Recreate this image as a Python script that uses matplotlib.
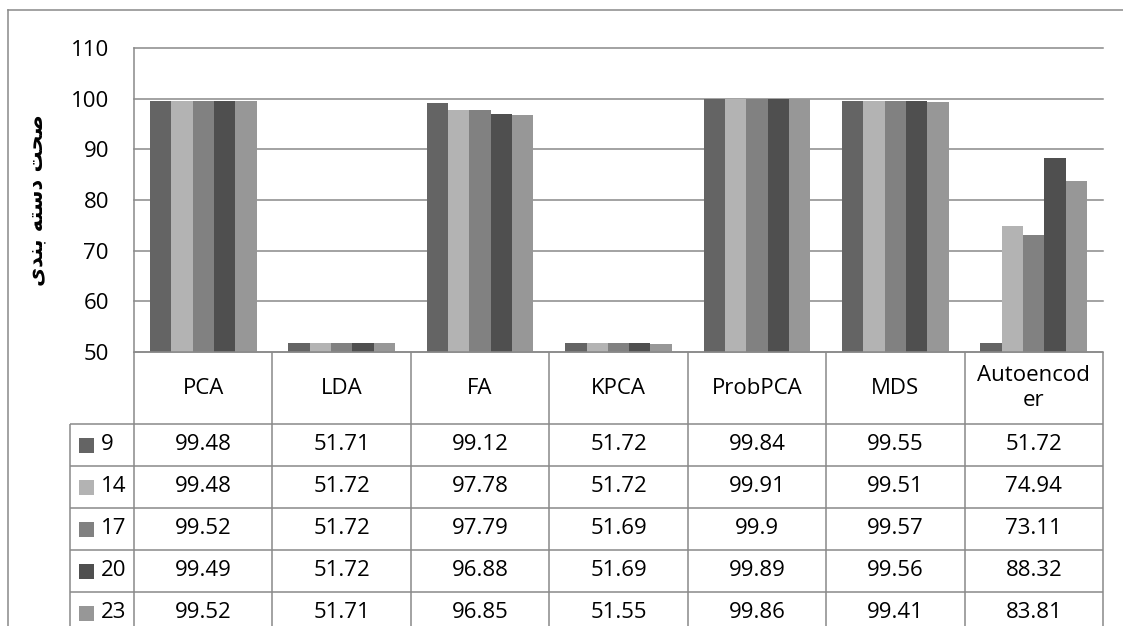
import numpy as np
import matplotlib.pyplot as plt
from matplotlib.lines import Line2D
from matplotlib.patches import Rectangle

# accuracy per method (columns) for each number of features (series)
methods = ['PCA', 'LDA', 'FA', 'KPCA', 'ProbPCA', 'MDS', 'Autoencod\ner']
series = ['9', '14', '17', '20', '23']
acc_9 = [99.48, 51.71, 99.12, 51.72, 99.84, 99.55, 51.72]
acc_14 = [99.48, 51.72, 97.78, 51.72, 99.91, 99.51, 74.94]
acc_17 = [99.52, 51.72, 97.79, 51.69, 99.9, 99.57, 73.11]
acc_20 = [99.49, 51.72, 96.88, 51.69, 99.89, 99.56, 88.32]
acc_23 = [99.52, 51.71, 96.85, 51.55, 99.86, 99.41, 83.81]
yticks = [50, 60, 70, 80, 90, 100, 110]
ylabel = '\ufeef\ufeaa\ufee8\ufe91 \ufeea\ufe98\ufeb3\ufea9 \ufe96\ufea4\ufebb'  # صحت دسته بندی

colors = ['#646464', '#b3b3b3', '#818181', '#4f4f4f', '#979797']
grid_c = '#898989'
plt.rcParams['font.family'] = ['Open Sans', 'DejaVu Sans']

W, H = 1123, 626
fig = plt.figure(figsize=(W / 100, H / 100), dpi=100)


def px_axes(l, t, r, b):
    return fig.add_axes([l / W, 1 - b / H, (r - l) / W, (b - t) / H])


# bars
ax = px_axes(134, 48, 1103, 352)
all_acc = [acc_9, acc_14, acc_17, acc_20, acc_23]
x = np.arange(len(methods))
bw = 0.154
for i, vals in enumerate(all_acc):
    ax.bar(x + (i - 2) * bw, vals, width=bw, color=colors[i], zorder=3)
ax.set_xlim(-0.5, len(methods) - 0.5)
ax.set_ylim(50, 110)
ax.set_yticks(yticks)
ax.set_xticks([])
ax.tick_params(axis='y', length=0, pad=18, labelsize=16)
ax.yaxis.grid(True, color=grid_c, lw=1.1, zorder=1)
for g in ax.get_ygridlines():
    g.set_clip_on(False)
for s in ['top', 'right', 'bottom']:
    ax.spines[s].set_visible(False)
ax.spines['left'].set_color(grid_c)
ax.spines['left'].set_linewidth(1.1)

# data table under the plot
col_px = (1103 - 134) / len(methods)
leg_w = (134 - 70) / col_px
x0 = -0.5 - leg_w
x1 = len(methods) - 0.5
tax = px_axes(70, 352, 1103, 626)
tax.set_xlim(x0, x1)
tax.set_ylim(274, 0)
tax.axis('off')

head_h, row_h = 72, 42
kw = dict(color=grid_c, lw=1.1, solid_capstyle='butt', clip_on=False)
tax.plot([-0.5, x1], [0, 0], **kw)
for r in range(len(series) + 1):
    y = head_h + r * row_h
    tax.plot([x0, x1], [y, y], **kw)
tax.plot([x0, x0], [head_h, 274], **kw)
for k in range(len(methods) + 1):
    tax.plot([k - 0.5, k - 0.5], [0, 274], **kw)

for k, m in enumerate(methods):
    tax.text(k, head_h / 2, m, ha='center', va='center', fontsize=16,
             linespacing=1.25, multialignment='center')
for i, vals in enumerate(all_acc):
    yc = head_h + i * row_h + row_h / 2
    tax.add_patch(Rectangle((x0 + 9 / col_px, yc - 7.5), 15 / col_px, 15,
                            color=colors[i], lw=0))
    tax.text(x0 + 31 / col_px, yc, series[i], ha='left', va='center',
             fontsize=16)
    for k, v in enumerate(vals):
        tax.text(k, yc, f'{v:g}', ha='center', va='center', fontsize=16)

# y axis title
fig.text(36 / W, 1 - 200 / H, ylabel, rotation=90, ha='center', va='center',
         fontsize=15, fontweight='bold', family=['DejaVu Sans'])

# chart frame
fig.add_artist(Line2D([8 / W, 8 / W], [0, 1 - 10 / H], color=grid_c, lw=1.1,
                      transform=fig.transFigure))
fig.add_artist(Line2D([8 / W, 1], [1 - 10 / H, 1 - 10 / H], color=grid_c,
                      lw=1.1, transform=fig.transFigure))

fig.savefig('out.png', dpi=100)
